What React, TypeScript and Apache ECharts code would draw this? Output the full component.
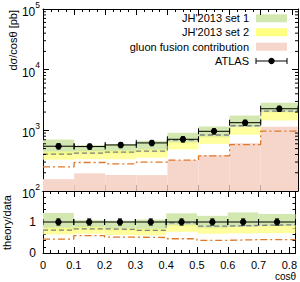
import React, { useEffect, useRef } from 'react';
import * as echarts from 'echarts';

// ---- data ----
const binEdges = [0, 0.1, 0.2, 0.3, 0.4, 0.5, 0.6, 0.7, 0.82];
const binCenters = [0.05, 0.15, 0.25, 0.35, 0.45, 0.55, 0.65, 0.76];
const atlas = [547, 540, 574, 620, 712, 963, 1337, 2270];
const atlasErr = [55, 54, 57, 62, 71, 96, 134, 227];
const set1Hi = [706, 572, 597, 670, 911, 1156, 1751, 2860];
const set1Lo = [394, 400, 413, 434, 612, 751, 1123, 1952];
const set2Hi = [449, 454, 459, 484, 641, 790, 1123, 1998];
const set2Lo = [328, 335, 333, 353, 484, 597, 842, 1453];
const centralDashed = [405, 421, 436, 453, 691, 838, 1190, 2066];
const ggfLine = [250, 295, 280, 299, 322, 379, 583, 974];
const ggfFill = [157, 195, 183, 183, 325, 390, 610, 1150];

const ratioAtlas = [1, 1, 1, 1, 1, 1, 1, 1];
const ratioAtlasErr = [0.1, 0.1, 0.1, 0.1, 0.1, 0.1, 0.1, 0.1];
const ratioSet1Hi = [1.29, 1.06, 1.04, 1.08, 1.28, 1.2, 1.31, 1.26];
const ratioSet1Lo = [0.72, 0.74, 0.72, 0.7, 0.86, 0.78, 0.84, 0.86];
const ratioSet2Hi = [0.82, 0.84, 0.8, 0.78, 0.9, 0.82, 0.84, 0.88];
const ratioSet2Lo = [0.6, 0.62, 0.58, 0.57, 0.68, 0.62, 0.63, 0.64];
const ratioDashed = [0.74, 0.78, 0.76, 0.73, 0.97, 0.87, 0.89, 0.91];
const ratioGgf = [0.45, 0.56, 0.51, 0.5, 0.46, 0.41, 0.43, 0.43];

const logMinorTicks = [200, 300, 400, 500, 600, 700, 800, 900, 2000, 3000, 4000, 5000, 6000, 7000, 8000, 9000, 20000, 30000, 40000, 50000, 60000, 70000, 80000, 90000];

const legendLabels = ["JH'2013 set 1", "JH'2013 set 2", 'gluon fusion contribution', 'ATLAS'];

const FONT = 'Liberation Sans, Arial, Helvetica, sans-serif';
const GREEN = '#d3e8b0';
const YELLOW = '#ffff80';
const PINK = '#f6d6cb';
const ORANGE = '#e0782a';
const GRAY = '#7f7f7f';

function bandData(lo: number[], hi: number[]) {
  return lo.map((l, i) => [binEdges[i], binEdges[i + 1], l, hi[i]]);
}
function stepData(vals: number[]) {
  return binEdges.map((e, i) => [e, vals[Math.min(i, vals.length - 1)]]);
}
function pointData(vals: number[], errs: number[]) {
  return vals.map((v, i) => [binEdges[i], binEdges[i + 1], binCenters[i], v, errs[i]]);
}

function bandSeries(data: number[][], color: string, opacity: number, xi: number, yi: number) {
  return {
    type: 'custom',
    xAxisIndex: xi,
    yAxisIndex: yi,
    clip: true,
    encode: { x: [0, 1], y: [2, 3] },
    data,
    renderItem: (params: any, api: any) => {
      const p0 = api.coord([api.value(0), api.value(3)]);
      const p1 = api.coord([api.value(1), api.value(2)]);
      return {
        type: 'rect',
        shape: { x: p0[0], y: p0[1], width: p1[0] - p0[0], height: p1[1] - p0[1] },
        style: { fill: color, opacity },
      };
    },
  };
}

function fillSeries(data: number[][], color: string, xi: number, yi: number) {
  return {
    type: 'custom',
    xAxisIndex: xi,
    yAxisIndex: yi,
    clip: true,
    encode: { x: [0, 1], y: [2] },
    data,
    renderItem: (params: any, api: any) => {
      const p0 = api.coord([api.value(0), api.value(2)]);
      const p1 = api.coord([api.value(1), api.value(2)]);
      const bottom = params.coordSys.y + params.coordSys.height;
      return {
        type: 'rect',
        shape: { x: p0[0], y: p0[1], width: p1[0] - p0[0], height: bottom - p0[1] },
        style: { fill: color },
      };
    },
  };
}

function stepSeries(vals: number[], color: string, dash: number[], xi: number, yi: number) {
  return {
    type: 'line',
    xAxisIndex: xi,
    yAxisIndex: yi,
    step: 'end',
    symbol: 'none',
    data: stepData(vals),
    lineStyle: { color, width: 1.3, type: dash },
    z: 3,
  };
}

function pointSeries(data: number[][], xi: number, yi: number) {
  return {
    type: 'custom',
    xAxisIndex: xi,
    yAxisIndex: yi,
    clip: true,
    encode: { x: [0, 1], y: [3] },
    data,
    z: 5,
    renderItem: (params: any, api: any) => {
      const x0 = api.value(0), x1 = api.value(1), xc = api.value(2), v = api.value(3), e = api.value(4);
      const pL = api.coord([x0, v]);
      const pR = api.coord([x1, v]);
      const pC = api.coord([xc, v]);
      const pH = api.coord([xc, v + e]);
      const pLo = api.coord([xc, v - e]);
      const st = { stroke: '#000', lineWidth: 1 };
      return {
        type: 'group',
        children: [
          { type: 'line', shape: { x1: pL[0], y1: pL[1], x2: pR[0], y2: pR[1] }, style: st },
          { type: 'line', shape: { x1: pL[0], y1: pL[1] - 3, x2: pL[0], y2: pL[1] + 3 }, style: st },
          { type: 'line', shape: { x1: pR[0], y1: pR[1] - 3, x2: pR[0], y2: pR[1] + 3 }, style: st },
          { type: 'line', shape: { x1: pC[0], y1: pH[1], x2: pC[0], y2: pLo[1] }, style: { stroke: '#000', lineWidth: 1.5 } },
          { type: 'line', shape: { x1: pC[0] - 2, y1: pH[1], x2: pC[0] + 2, y2: pH[1] }, style: st },
          { type: 'line', shape: { x1: pC[0] - 2, y1: pLo[1], x2: pC[0] + 2, y2: pLo[1] }, style: st },
          { type: 'circle', shape: { cx: pC[0], cy: pC[1], r: 3.2 }, style: { fill: '#000' } },
        ],
      };
    },
  };
}

function logMinorSeries() {
  return {
    type: 'custom',
    xAxisIndex: 0,
    yAxisIndex: 0,
    encode: { x: [0], y: [1] },
    data: logMinorTicks.map((v) => [0, v]),
    z: 6,
    renderItem: (params: any, api: any) => {
      const p = api.coord([0, api.value(1)]);
      const left = params.coordSys.x;
      const right = params.coordSys.x + params.coordSys.width;
      const st = { stroke: '#000', lineWidth: 1 };
      return {
        type: 'group',
        children: [
          { type: 'line', shape: { x1: left, y1: p[1], x2: left + 3, y2: p[1] }, style: st },
          { type: 'line', shape: { x1: right - 3, y1: p[1], x2: right, y2: p[1] }, style: st },
        ],
      };
    },
  };
}

const axisLineStyle = { show: true, lineStyle: { color: '#000', width: 1 } };

function xAxis(grid: number, position: string, labels: boolean) {
  return {
    type: 'value',
    gridIndex: grid,
    position,
    min: 0,
    max: 0.82,
    interval: 0.1,
    axisLine: { ...axisLineStyle, onZero: false },
    axisTick: { show: true, inside: true, length: 6, lineStyle: { color: '#000' } },
    minorTick: { show: true, splitNumber: 4, length: 3, lineStyle: { color: '#000' } },
    splitLine: { show: false },
    axisLabel: {
      show: labels,
      margin: 6,
      fontFamily: FONT,
      fontSize: 11,
      color: '#000',
      formatter: (v: number) => (v > 0.81 ? '' : v === 0 ? '0' : v.toFixed(1)),
    },
  };
}

function logYAxis(position: string, labels: boolean) {
  return {
    type: 'log',
    gridIndex: 0,
    position,
    logBase: 10,
    min: 100,
    max: 100000,
    axisLine: { ...axisLineStyle, onZero: false },
    axisTick: { show: true, inside: true, length: 6, lineStyle: { color: '#000' } },
    splitLine: { show: false },
    axisLabel: {
      show: labels,
      margin: 3,
      color: '#000',
      fontFamily: FONT,
      formatter: (v: number) => `{b|10}{s|${Math.round(Math.log10(v))}}`,
      rich: {
        b: { fontSize: 12, fontFamily: FONT, color: '#000', lineHeight: 18, verticalAlign: 'bottom' },
        s: { fontSize: 8.5, fontFamily: FONT, color: '#000', lineHeight: 18, verticalAlign: 'top' },
      },
    },
  };
}

function ratioYAxis(position: string, labels: boolean) {
  return {
    type: 'value',
    gridIndex: 1,
    position,
    min: 0,
    max: 2,
    interval: 1,
    axisLine: { ...axisLineStyle, onZero: false },
    axisTick: { show: true, inside: true, length: 6, lineStyle: { color: '#000' } },
    minorTick: { show: true, splitNumber: 5, length: 3, lineStyle: { color: '#000' } },
    splitLine: { show: false },
    axisLabel: {
      show: labels,
      margin: 7,
      fontFamily: FONT,
      fontSize: 12,
      color: '#000',
      showMaxLabel: false,
    },
  };
}

const legendRowsY = [18.3, 32.3, 46.7, 61];
const legendColors = [GREEN, YELLOW, PINK];

function legendGraphics() {
  const els: any[] = [];
  legendLabels.forEach((t, i) => {
    els.push({
      type: 'text',
      x: 249,
      y: legendRowsY[i],
      style: { text: t, align: 'right', verticalAlign: 'middle', fontFamily: FONT, fontSize: 11, fill: '#000' },
    });
    if (i < 3) {
      els.push({
        type: 'rect',
        shape: { x: 256, y: legendRowsY[i] - 4, width: 31, height: 8 },
        style: { fill: legendColors[i] },
      });
    }
  });
  const y = legendRowsY[3];
  const st = { stroke: '#000', lineWidth: 1 };
  els.push({ type: 'line', shape: { x1: 256, y1: y, x2: 287, y2: y }, style: st });
  els.push({ type: 'line', shape: { x1: 256, y1: y - 3, x2: 256, y2: y + 3 }, style: st });
  els.push({ type: 'line', shape: { x1: 287, y1: y - 3, x2: 287, y2: y + 3 }, style: st });
  els.push({ type: 'circle', shape: { cx: 271.5, cy: y, r: 3.2 }, style: { fill: '#000' } });
  return els;
}

export default function App() {
  const ref = useRef<HTMLDivElement>(null);
  useEffect(() => {
    if (!ref.current) return;
    const chart = echarts.init(ref.current, null, { renderer: 'svg' });
    chart.setOption({
      animation: false,
      backgroundColor: '#fff',
      grid: [
        { left: 43, top: 8, width: 255, height: 183 },
        { left: 43, top: 191, width: 255, height: 62 },
      ],
      xAxis: [xAxis(0, 'bottom', false), xAxis(0, 'top', false), xAxis(1, 'bottom', true), xAxis(1, 'top', false)],
      yAxis: [logYAxis('left', true), logYAxis('right', false), ratioYAxis('left', true), ratioYAxis('right', false)],
      series: [
        fillSeries(ggfFill.map((v, i) => [binEdges[i], binEdges[i + 1], v]), PINK, 0, 0),
        bandSeries(bandData(set1Lo, set1Hi), GREEN, 1, 0, 0),
        bandSeries(bandData(set2Lo, set2Hi), YELLOW, 0.75, 0, 0),
        stepSeries(ggfLine, ORANGE, [7, 3, 2, 3], 0, 0),
        stepSeries(centralDashed, GRAY, [5, 3], 0, 0),
        pointSeries(pointData(atlas, atlasErr), 0, 0),
        logMinorSeries(),
        bandSeries(bandData(ratioSet1Lo, ratioSet1Hi), GREEN, 1, 2, 2),
        bandSeries(bandData(ratioSet2Lo, ratioSet2Hi), YELLOW, 0.75, 2, 2),
        stepSeries(ratioGgf, ORANGE, [7, 3, 2, 3], 2, 2),
        stepSeries(ratioDashed, GRAY, [5, 3], 2, 2),
        pointSeries(pointData(ratioAtlas, ratioAtlasErr), 2, 2),
      ],
      graphic: [
        ...legendGraphics(),
        {
          type: 'text',
          x: 13,
          y: 10,
          rotation: Math.PI / 2,
          style: { text: 'dσ/cosθ [pb]', align: 'right', verticalAlign: 'middle', fontFamily: FONT, fontSize: 11, fill: '#000' },
        },
        {
          type: 'text',
          x: 7,
          y: 195,
          rotation: Math.PI / 2,
          style: { text: 'theory/data', align: 'right', verticalAlign: 'middle', fontFamily: FONT, fontSize: 11, fill: '#000' },
        },
        {
          type: 'text',
          x: 296,
          y: 276.5,
          style: { text: 'cosθ', align: 'right', verticalAlign: 'middle', fontFamily: FONT, fontSize: 10, fill: '#000' },
        },
      ],
    });
    return () => chart.dispose();
  }, []);
  return <div ref={ref} style={{ width: 300, height: 282, position: 'absolute', left: 0, top: 0 }} />;
}
